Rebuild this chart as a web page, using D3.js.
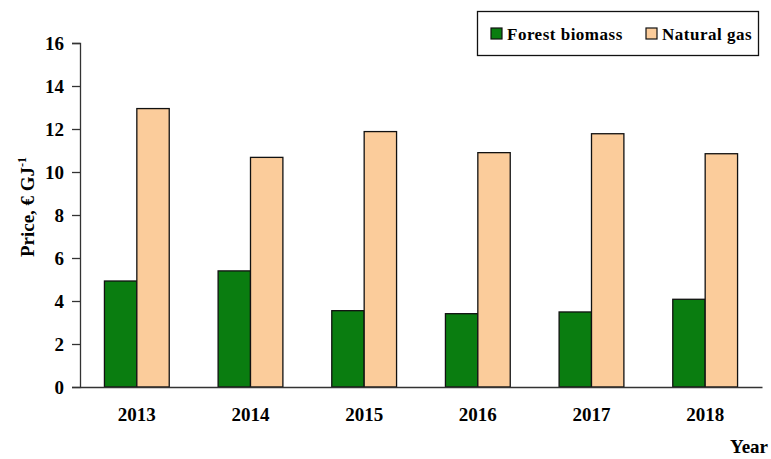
<!DOCTYPE html>
<html>
<head>
<meta charset="utf-8">
<script src="https://cdn.jsdelivr.net/npm/d3@7"></script>
<style>
  body { margin: 0; background: #fff; }
  svg text { font-family: "Liberation Serif", "Times New Roman", serif; font-weight: bold; fill: #000; }
</style>
</head>
<body>
<div class="chart"></div>
<script>
const years = ["2013", "2014", "2015", "2016", "2017", "2018"];
const forestBiomass = [4.93, 5.4, 3.55, 3.41, 3.49, 4.08];
const naturalGas = [12.95, 10.68, 11.88, 10.9, 11.78, 10.85];
const yTicks = [0, 2, 4, 6, 8, 10, 12, 14, 16];

const seriesNames = ["Forest biomass", "Natural gas"];
const seriesColors = ["#0a7d10", "#fbcc9b"];

const width = 771;
const height = 459;
const margin = {top: 43, right: 9, bottom: 72, left: 80};

const svg = d3.select('.chart').append('svg')
    .attr('width', width)
    .attr('height', height);

const x = d3.scaleBand()
    .domain(years)
    .range([margin.left, width - margin.right])
    .paddingInner(0.43)
    .paddingOuter(0.215);

const xSub = d3.scaleBand()
    .domain([0, 1])
    .range([0, x.bandwidth()]);

const y = d3.scaleLinear()
    .domain([0, 16])
    .range([height - margin.bottom, margin.top]);

// bars
const rows = years.map((yr, i) => ({year: yr, values: [forestBiomass[i], naturalGas[i]]}));

const groups = svg.append('g').selectAll('g')
    .data(rows)
    .enter().append('g')
    .attr('transform', d => `translate(${x(d.year)},0)`);

groups.selectAll('rect')
    .data(d => d.values.map((v, k) => ({k, v})))
    .enter().append('rect')
    .attr('x', d => xSub(d.k))
    .attr('y', d => y(d.v))
    .attr('width', xSub.bandwidth())
    .attr('height', d => y(0) - y(d.v))
    .attr('fill', d => seriesColors[d.k])
    .attr('stroke', '#111')
    .attr('stroke-width', 1.3);

// y axis
const yAxis = svg.append('g')
    .attr('transform', `translate(${margin.left},0)`)
    .call(d3.axisLeft(y).tickValues(yTicks).tickSize(8).tickPadding(8));
yAxis.selectAll('text').attr('font-size', 19);
yAxis.select('.domain').attr('stroke', '#333').attr('stroke-width', 1.3);
yAxis.selectAll('.tick line').attr('stroke', '#333').attr('stroke-width', 1.3);

// x axis
const xAxis = svg.append('g')
    .attr('transform', `translate(0,${y(0)})`)
    .call(d3.axisBottom(x).tickSize(0).tickPadding(21));
xAxis.selectAll('text').attr('font-size', 19);
xAxis.select('.domain').attr('stroke', '#333').attr('stroke-width', 1.3);

// axis titles
const yTitle = svg.append('text')
    .attr('transform', 'translate(34,207) rotate(-90)')
    .attr('text-anchor', 'middle')
    .attr('font-size', 19);
yTitle.append('tspan').text('Price, € GJ');
yTitle.append('tspan').attr('dy', -8).attr('font-size', 12).text('-1');

svg.append('text')
    .attr('x', 768)
    .attr('y', 453)
    .attr('text-anchor', 'end')
    .attr('font-size', 19)
    .text('Year');

// legend
const legend = svg.append('g');
legend.append('rect')
    .attr('x', 477.5).attr('y', 11.5)
    .attr('width', 281).attr('height', 44)
    .attr('fill', '#fff')
    .attr('stroke', '#111')
    .attr('stroke-width', 1.3);

const legendX = [491, 646];
seriesNames.forEach((name, k) => {
    legend.append('rect')
        .attr('x', legendX[k]).attr('y', 28)
        .attr('width', 11).attr('height', 11)
        .attr('fill', seriesColors[k])
        .attr('stroke', '#111')
        .attr('stroke-width', 1.2);
    legend.append('text')
        .attr('x', legendX[k] + 16)
        .attr('y', 40)
        .attr('font-size', 17)
        .attr('letter-spacing', 0.5)
        .text(name);
});
</script>
</body>
</html>
